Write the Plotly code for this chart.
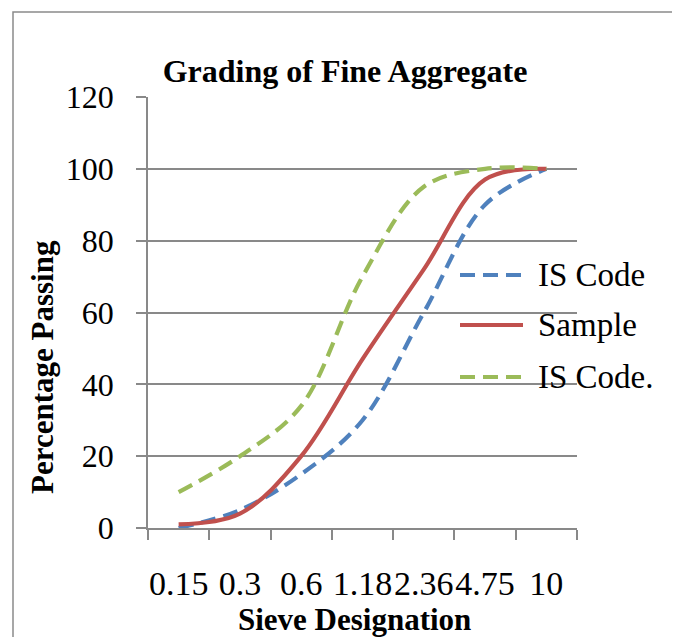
import plotly.graph_objects as go

sieves = ["0.15", "0.3", "0.6", "1.18", "2.36", "4.75", "10"]
is_code_lower = [0, 5, 15, 30, 60, 90, 100]
sample = [1, 4, 20, 47, 72, 97, 100]
is_code_upper = [10, 20, 34, 70, 95, 100, 100]
y_ticks = [0, 20, 40, 60, 80, 100, 120]

names = ["IS Code", "Sample", "IS Code."]
colors = ["#4F81BD", "#C0504D", "#9BBB59"]
dashes = ["15px,8px", "solid", "15px,8px"]
series = [is_code_lower, sample, is_code_upper]

FONT = "Times New Roman, Liberation Serif, serif"
GRID = "#898989"

# page body has an 8px margin; work in window pixels and convert
OFF = 8
W, H = 680 - OFF, 637 - OFF
PL, PR, PT, PB = 148, 577, 97, 528  # plot area in window pixels
L, R, T, B = PL - OFF, W - (PR - OFF), PT - OFF, H - (PB - OFF)
PW, PH = W - L - R, H - T - B

def px_x(px):
    return (px - OFF - L) / PW

def px_y(py):
    return (H - B - (py - OFF)) / PH

fig = go.Figure()
for name, vals, col, dash in zip(names, series, colors, dashes):
    fig.add_trace(go.Scatter(
        x=sieves, y=vals, name=name, mode="lines",
        line=dict(color=col, width=4.2, dash=dash, shape="spline", smoothing=1.0),
        showlegend=False,
    ))

shapes = []
annotations = []
# legend drawn by hand (Excel-style long samples)
leg_y = [275, 325, 377]
for name, col, dash, yy in zip(names, colors, dashes, leg_y):
    shapes.append(dict(type="line", xref="paper", yref="paper",
                       x0=px_x(460), x1=px_x(523), y0=px_y(yy), y1=px_y(yy),
                       line=dict(color=col, width=4.2, dash=dash)))
    annotations.append(dict(text=name, xref="paper", yref="paper",
                            x=px_x(536), y=px_y(yy), xanchor="left", yanchor="middle",
                            showarrow=False, font=dict(family=FONT, size=33, color="black")))

# axis titles
annotations.append(dict(text="<b>Sieve Designation</b>", xref="paper", yref="paper",
                        x=px_x(354), y=px_y(619), xanchor="center", yanchor="middle",
                        showarrow=False, font=dict(family=FONT, size=31, color="black")))
annotations.append(dict(text="<b>Percentage Passing</b>", xref="paper", yref="paper",
                        x=px_x(42), y=px_y(367), xanchor="center", yanchor="middle",
                        textangle=-90, showarrow=False,
                        font=dict(family=FONT, size=31, color="black")))

# outer chart border
shapes.append(dict(type="rect", xref="paper", yref="paper",
                   x0=px_x(13), x1=px_x(675), y0=px_y(12), y1=px_y(680),
                   line=dict(color="#8a8a8a", width=1.5), fillcolor="rgba(0,0,0,0)", layer="below"))

fig.update_layout(
    width=W, height=H,
    margin=dict(l=L, r=R, t=T, b=B, pad=0),
    paper_bgcolor="white", plot_bgcolor="white",
    font=dict(family=FONT, color="black"),
    title=dict(text="<b>Grading of Fine Aggregate</b>", x=(345 - OFF) / W, xanchor="center",
               y=1 - (71 - OFF) / H, yanchor="middle", yref="container",
               font=dict(family=FONT, size=32, color="black")),
    shapes=shapes, annotations=annotations,
    xaxis=dict(
        type="category", categoryorder="array", categoryarray=sieves,
        range=[-0.5, len(sieves) - 0.5],
        tickson="boundaries", ticks="outside", ticklen=10, tickcolor=GRID, tickwidth=1.5,
        showline=True, linecolor=GRID, linewidth=1.5, showgrid=False,
        tickangle=0, tickfont=dict(family=FONT, size=34, color="black"),
        ticklabelstandoff=24,
        zeroline=False,
    ),
    yaxis=dict(
        range=[0, 120], tickvals=y_ticks, ticks="outside", ticklen=10, tickcolor=GRID, tickwidth=1.5,
        showline=True, linecolor=GRID, linewidth=1.5,
        showgrid=True, gridcolor=GRID, gridwidth=1.5,
        tickfont=dict(family=FONT, size=32, color="black"),
        ticklabelstandoff=16,
        zeroline=False,
    ),
)

fig.write_html("out.html")
